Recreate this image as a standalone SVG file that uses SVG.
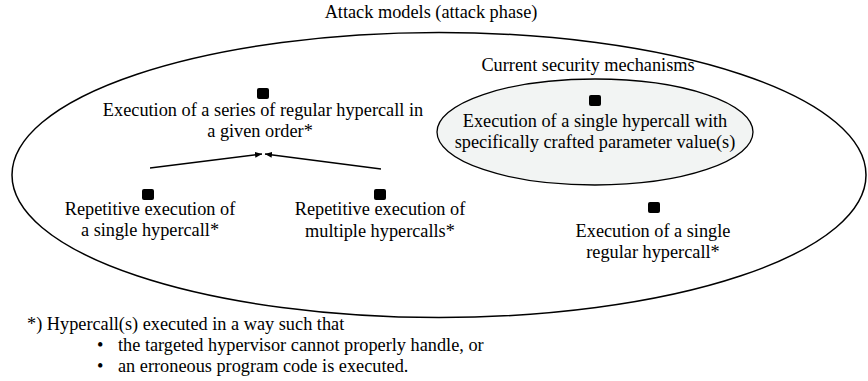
<svg xmlns="http://www.w3.org/2000/svg" width="868" height="381" viewBox="0 0 868 381">
<style>
  text { font-family: "Liberation Serif", "Times New Roman", serif; font-size: 18.3px; fill: #000; }
  .c { text-anchor: middle; }
  .sq { fill: #000; }
  .edge { stroke: #000; stroke-width: 1.4; fill: none; marker-end: url(#arr); }
</style>
<defs>
  <marker id="arr" markerUnits="userSpaceOnUse" markerWidth="8" markerHeight="6" refX="7" refY="3" orient="auto">
    <path d="M0,0 L7,3 L0,6 Z" fill="#000"/>
  </marker>
</defs>
<rect width="868" height="381" fill="#fff"/>
<g id="attack-models">
  <ellipse cx="439" cy="175" rx="427" ry="142.5" fill="none" stroke="#000" stroke-width="1.5"/>
  <text class="c" x="431" y="18">Attack models (attack phase)</text>
</g>
<g id="security-mechanisms">
  <ellipse cx="595" cy="132" rx="158" ry="53" fill="#f2f4f3" stroke="#000" stroke-width="1.3"/>
  <text class="c" x="588" y="71">Current security mechanisms</text>
</g>
<g id="node-series">
  <rect class="sq" x="257" y="88" width="12" height="11" rx="2"/>
  <text class="c" x="263" y="116">Execution of a series of regular hypercall in</text>
  <text class="c" x="260" y="137">a given order*</text>
</g>
<g id="node-crafted">
  <rect class="sq" x="589" y="95" width="12" height="11" rx="2"/>
  <text class="c" x="595" y="127">Execution of a single hypercall with</text>
  <text class="c" x="595" y="148">specifically crafted parameter value(s)</text>
</g>
<g id="node-repetitive-single">
  <rect class="sq" x="142" y="189" width="12" height="11" rx="2"/>
  <text class="c" x="150" y="215">Repetitive execution of</text>
  <text class="c" x="150" y="236">a single hypercall*</text>
</g>
<g id="node-repetitive-multiple">
  <rect class="sq" x="374" y="189" width="12" height="11" rx="2"/>
  <text class="c" x="380" y="215">Repetitive execution of</text>
  <text class="c" x="380" y="237">multiple hypercalls*</text>
</g>
<g id="node-single-regular">
  <rect class="sq" x="648" y="202" width="12" height="11" rx="2"/>
  <text class="c" x="653" y="237">Execution of a single</text>
  <text class="c" x="653" y="258">regular hypercall*</text>
</g>
<g id="connectors">
  <line class="edge" x1="150" y1="168" x2="262" y2="154"/>
  <line class="edge" x1="381" y1="169" x2="265" y2="154"/>
</g>
<g id="footnote">
  <text x="27" y="330">*) Hypercall(s) executed in a way such that</text>
  <text x="97" y="351">•</text>
  <text x="118" y="351">the targeted hypervisor cannot properly handle, or</text>
  <text x="97" y="372">•</text>
  <text x="118" y="372">an erroneous program code is executed.</text>
</g>
</svg>
